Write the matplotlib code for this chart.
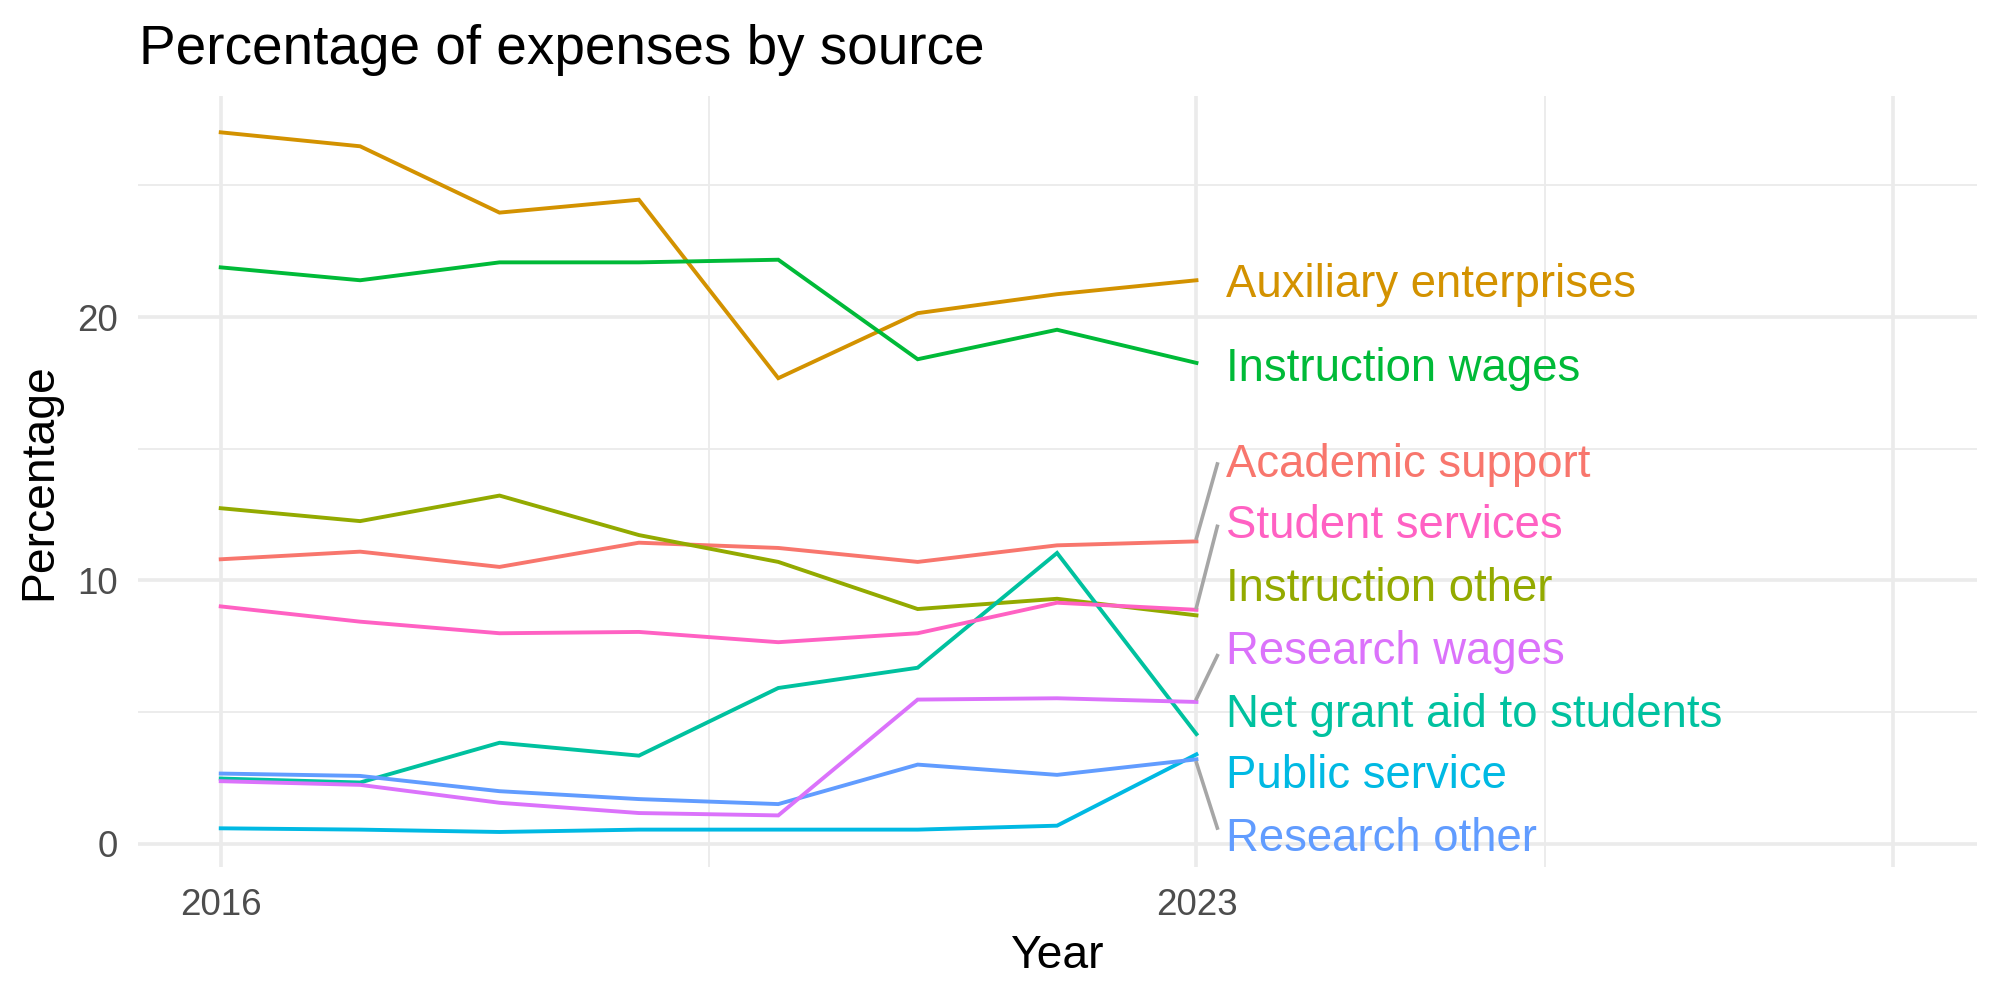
import matplotlib
matplotlib.use("Agg")
import matplotlib.pyplot as plt

plt.rcParams['font.family'] = ['Liberation Sans', 'DejaVu Sans']

years = [2016, 2017, 2018, 2019, 2020, 2021, 2022, 2023]

series_names = ["Academic support", "Auxiliary enterprises", "Instruction other",
                "Instruction wages", "Net grant aid to students", "Public service",
                "Research other", "Research wages", "Student services"]
colors = ["#F8766D", "#D39200", "#93AA00", "#00BA38", "#00C19F", "#00B9E3",
          "#619CFF", "#DB72FB", "#FF61C3"]

academic_support = [10.80, 11.09, 10.51, 11.43, 11.23, 10.70, 11.33, 11.48]
auxiliary_enterprises = [27.02, 26.49, 23.97, 24.46, 17.68, 20.15, 20.87, 21.40]
instruction_other = [12.74, 12.25, 13.22, 11.72, 10.70, 8.91, 9.30, 8.67]
instruction_wages = [21.89, 21.40, 22.08, 22.08, 22.18, 18.40, 19.52, 18.26]
net_grant_aid = [2.47, 2.32, 3.83, 3.34, 5.91, 6.68, 11.04, 4.16]
public_service = [0.58, 0.53, 0.44, 0.53, 0.53, 0.53, 0.68, 3.39]
research_other = [2.66, 2.57, 1.99, 1.69, 1.50, 3.00, 2.61, 3.20]
research_wages = [2.37, 2.23, 1.55, 1.16, 1.07, 5.47, 5.52, 5.38]
student_services = [9.01, 8.43, 7.99, 8.04, 7.65, 7.99, 9.15, 8.88]

values = [academic_support, auxiliary_enterprises, instruction_other, instruction_wages,
          net_grant_aid, public_service, research_other, research_wages, student_services]

# repelled label positions (y)
label_y = [14.40, 21.23, 9.68, 18.03, 4.90, 2.55, 0.16, 7.29, 12.07]
label_x = 2023.21
# leader segments: (series, y start, x end, y end)
segments = [("Academic support", 11.60, 2023.15, 14.42),
            ("Student services", 8.97, 2023.15, 12.05),
            ("Research wages", 5.50, 2023.15, 7.14),
            ("Research other", 3.07, 2023.15, 0.59)]

x_major = [2016, 2023, 2028]
x_major_labels = ["2016", "2023", ""]
x_minor = [2019.5, 2025.5]
y_major = [0, 10, 20]
y_minor = [5, 15, 25]

fig = plt.figure(figsize=(20, 10), dpi=100)
ax = fig.add_axes([0.0689, 0.133, 0.9196, 0.771])

grid_col = "#EBEBEB"
for v in x_major:
    ax.axvline(v, color=grid_col, lw=2.6, zorder=0)
for v in x_minor:
    ax.axvline(v, color=grid_col, lw=1.3, zorder=0)
for v in y_major:
    ax.axhline(v, color=grid_col, lw=2.6, zorder=0)
for v in y_minor:
    ax.axhline(v, color=grid_col, lw=1.3, zorder=0)

for name, vals, c in zip(series_names, values, colors):
    ax.plot(years, vals, color=c, lw=2.8, zorder=2, solid_joinstyle='miter')

for name, c, ly in zip(series_names, colors, label_y):
    ax.text(label_x, ly, name, color=c, fontsize=32.8, ha='left', va='center', zorder=3)

for name, y0, x1, y1 in segments:
    ax.plot([years[-1], x1], [y0, y1], color="#A6A6A6", lw=2.6, zorder=2)

ax.set_xlim(2015.405, 2028.6)
ax.set_ylim(-0.89, 28.4)
ax.set_xticks(x_major)
ax.set_xticklabels(x_major_labels)
ax.set_yticks(y_major)
ax.set_yticklabels([str(v) for v in y_major])
ax.tick_params(axis='both', length=0, labelsize=26.5, labelcolor="#4D4D4D")
ax.tick_params(axis='x', pad=15)
ax.tick_params(axis='y', pad=14)
for s in ax.spines.values():
    s.set_visible(False)

ax.set_xlabel("Year", fontsize=33.3, labelpad=8)
ax.set_ylabel("Percentage", fontsize=33.3, labelpad=12)
fig.text(0.0695, 0.936, "Percentage of expenses by source", fontsize=39.5,
         ha='left', va='baseline')

fig.savefig("out.png", dpi=100)
